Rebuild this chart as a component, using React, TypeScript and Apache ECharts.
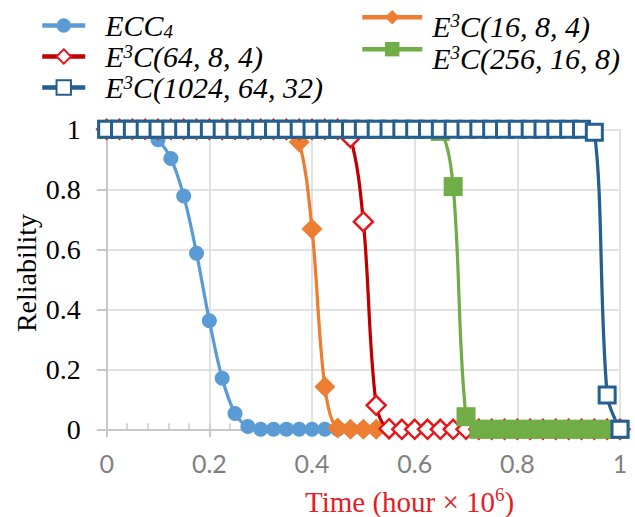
import React, { useEffect, useRef } from 'react';
import * as echarts from 'echarts';

const TIME = [
  0, 0.025, 0.05, 0.075, 0.1, 0.125, 0.15, 0.175, 0.2, 0.225,
  0.25, 0.275, 0.3, 0.325, 0.35, 0.375, 0.4, 0.425, 0.45, 0.475,
  0.5, 0.525, 0.55, 0.575, 0.6, 0.625, 0.65, 0.675, 0.7, 0.725,
  0.75, 0.775, 0.8, 0.825, 0.85, 0.875, 0.9, 0.925, 0.95, 0.975, 1,
];

const ECC4 = [
  1, 1, 1, 0.995, 0.965, 0.903, 0.778, 0.587, 0.362, 0.17,
  0.053, 0.009, 0, 0, 0, 0, 0, 0, 0, 0,
  0, 0, 0, 0, 0, 0, 0, 0, 0, 0,
  0, 0, 0, 0, 0, 0, 0, 0, 0, 0, 0,
];

const E3C_16_8_4 = [
  1, 1, 1, 1, 1, 1, 1, 1, 1, 1,
  1, 1, 1, 1, 0.997, 0.958, 0.668, 0.142, 0.004, 0,
  0, 0, 0, 0, 0, 0, 0, 0, 0, 0,
  0, 0, 0, 0, 0, 0, 0, 0, 0, 0, 0,
];

const E3C_64_8_4 = [
  1, 1, 1, 1, 1, 1, 1, 1, 1, 1,
  1, 1, 1, 1, 1, 1, 1, 1, 1, 0.972,
  0.692, 0.08, 0.002, 0, 0, 0, 0, 0, 0, 0,
  0, 0, 0, 0, 0, 0, 0, 0, 0, 0, 0,
];

const E3C_256_16_8 = [
  1, 1, 1, 1, 1, 1, 1, 1, 1, 1,
  1, 1, 1, 1, 1, 1, 1, 1, 1, 1,
  1, 1, 1, 1, 1, 1, 0.993, 0.809, 0.042, 0,
  0, 0, 0, 0, 0, 0, 0, 0, 0, 0, 0,
];

const E3C_1024_64_32 = [
  1, 1, 1, 1, 1, 1, 1, 1, 1, 1,
  1, 1, 1, 1, 1, 1, 1, 1, 1, 1,
  1, 1, 1, 1, 1, 1, 1, 1, 1, 1,
  1, 1, 1, 1, 1, 1, 1, 1, 0.99, 0.114, 0,
];

const LEGEND_LEFT = ['ECC4', 'E3C(64, 8, 4)', 'E3C(1024, 64, 32)'];
const LEGEND_RIGHT = ['E3C(16, 8, 4)', 'E3C(256, 16, 8)'];

const SERIF = 'Liberation Serif';

export default function App() {
  const ref = useRef<HTMLDivElement>(null);

  useEffect(() => {
    document.body.style.margin = '0';
    const chart = echarts.init(ref.current!, null, { renderer: 'svg' });
    const pairs = (ys: number[]) => TIME.map((t, i) => [t, ys[i]]);

    const rich = {
      n: { fontFamily: SERIF, fontStyle: 'italic', fontWeight: 'normal', fontSize: 30, lineHeight: 30, color: '#000' },
      sup: { fontFamily: SERIF, fontStyle: 'italic', fontWeight: 'normal', fontSize: 19, lineHeight: 19, color: '#000', verticalAlign: 'top' },
      sub: { fontFamily: SERIF, fontStyle: 'italic', fontWeight: 'normal', fontSize: 19, lineHeight: 19, color: '#000', verticalAlign: 'bottom' },
    };
    const fmt = (name: string) => {
      if (name === 'ECC4') return '{n|ECC}{sub|4}';
      return '{n|E}{sup|3}{n|' + name.slice(2) + '}';
    };

    const legendBase = {
      orient: 'vertical',
      padding: 0,
      itemHeight: 18,
      formatter: fmt,
      selectedMode: false,
      lineStyle: { width: 4.5 },
    };

    const base = {
      type: 'line',
      smooth: 0.35,
      clip: false,
      showAllSymbol: true,
      emphasis: { disabled: true },
    };

    chart.setOption({
      animation: false,
      grid: { left: 106.7, right: 15, top: 129.3, bottom: 87.7, outerBoundsMode: 'none' },
      legend: [
        {
          ...legendBase,
          data: LEGEND_LEFT,
          left: 40,
          top: 10.5,
          itemWidth: 43,
          itemGap: 1,
          textStyle: { padding: [0, 0, 0, 15], rich },
        },
        {
          ...legendBase,
          data: [LEGEND_RIGHT[0]],
          left: 360,
          top: 10,
          itemWidth: 60,
          itemGap: 0,
          textStyle: { padding: [18, 0, 0, 5], rich },
        },
        {
          ...legendBase,
          data: [LEGEND_RIGHT[1]],
          left: 360,
          top: 42,
          itemWidth: 60,
          itemGap: 0,
          textStyle: { padding: [18, 0, 0, 5], rich },
        },
      ],
      title: {
        left: 305,
        top: 485,
        padding: 0,
        text: '{t|Time (hour × 10}{sup|6}{t|)}',
        textStyle: {
          fontWeight: 'normal',
          rich: {
            t: { fontFamily: SERIF, fontWeight: 'normal', fontSize: 29, lineHeight: 34, color: '#e31e24' },
            sup: { fontFamily: SERIF, fontWeight: 'normal', fontSize: 19, lineHeight: 19, color: '#e31e24', verticalAlign: 'top' },
          },
        },
      },
      graphic: [
        {
          type: 'text',
          x: 26,
          y: 273,
          rotation: Math.PI / 2,
          style: {
            text: 'Reliability',
            font: '28px Liberation Serif',
            fill: '#000',
            textAlign: 'center',
            textVerticalAlign: 'middle',
          },
        },
      ],
      xAxis: [
        {
          type: 'value',
          min: 0,
          max: 1,
          interval: 0.2,
          axisLine: { show: true, onZero: false, lineStyle: { color: '#c8c8c8', width: 2 } },
          axisTick: { show: true, length: 8, lineStyle: { color: '#c8c8c8', width: 2 } },
          axisLabel: {
            color: '#7f7f7f',
            fontFamily: 'Lato',
            fontSize: 25,
            margin: 21,
            formatter: (v: number) => String(+v.toFixed(1)),
          },
          splitLine: { show: true, lineStyle: { color: '#d9d9d9', width: 1.5 } },
        },
        {
          type: 'value',
          min: 0,
          max: 1,
          interval: 0.04,
          position: 'bottom',
          axisLine: { show: false },
          axisTick: { show: true, inside: true, length: 6, lineStyle: { color: '#c8c8c8', width: 1.5 } },
          axisLabel: { show: false },
          splitLine: { show: false },
        },
      ],
      yAxis: {
        type: 'value',
        min: 0,
        max: 1,
        interval: 0.2,
        axisLine: { show: true, lineStyle: { color: '#c8c8c8', width: 2 } },
        axisTick: { show: true, length: 10, lineStyle: { color: '#c8c8c8', width: 2 } },
        axisLabel: { color: '#000', fontFamily: SERIF, fontSize: 28, margin: 26 },
        splitLine: { show: true, lineStyle: { color: '#d9d9d9', width: 1.5 } },
      },
      series: [
        {
          ...base,
          name: 'ECC4',
          data: pairs(ECC4),
          symbol: 'circle',
          symbolSize: 15,
          lineStyle: { color: '#5B9BD5', width: 3.25 },
          itemStyle: { color: '#5B9BD5' },
        },
        {
          ...base,
          name: 'E3C(16, 8, 4)',
          data: pairs(E3C_16_8_4),
          symbol: 'diamond',
          symbolSize: 21,
          lineStyle: { color: '#ED7D31', width: 3.25 },
          itemStyle: { color: '#ED7D31' },
        },
        {
          ...base,
          name: 'E3C(64, 8, 4)',
          data: pairs(E3C_64_8_4),
          symbol: 'diamond',
          symbolSize: 19,
          lineStyle: { color: '#C00000', width: 3.25 },
          itemStyle: { color: '#ffffff', borderColor: '#E8161C', borderWidth: 2.5 },
        },
        {
          ...base,
          name: 'E3C(256, 16, 8)',
          data: pairs(E3C_256_16_8),
          symbol: 'rect',
          symbolSize: 19,
          lineStyle: { color: '#70AD47', width: 3.25 },
          itemStyle: { color: '#70AD47' },
        },
        {
          ...base,
          name: 'E3C(1024, 64, 32)',
          data: pairs(E3C_1024_64_32),
          symbol: 'rect',
          symbolSize: 16,
          lineStyle: { color: '#255E91', width: 3.25 },
          itemStyle: { color: '#ffffff', borderColor: '#255E91', borderWidth: 3 },
        },
      ],
    });

    return () => chart.dispose();
  }, []);

  return (
    <div
      ref={ref}
      style={{ width: 635, height: 517, position: 'absolute', left: 0, top: 0, background: '#fff' }}
    />
  );
}
